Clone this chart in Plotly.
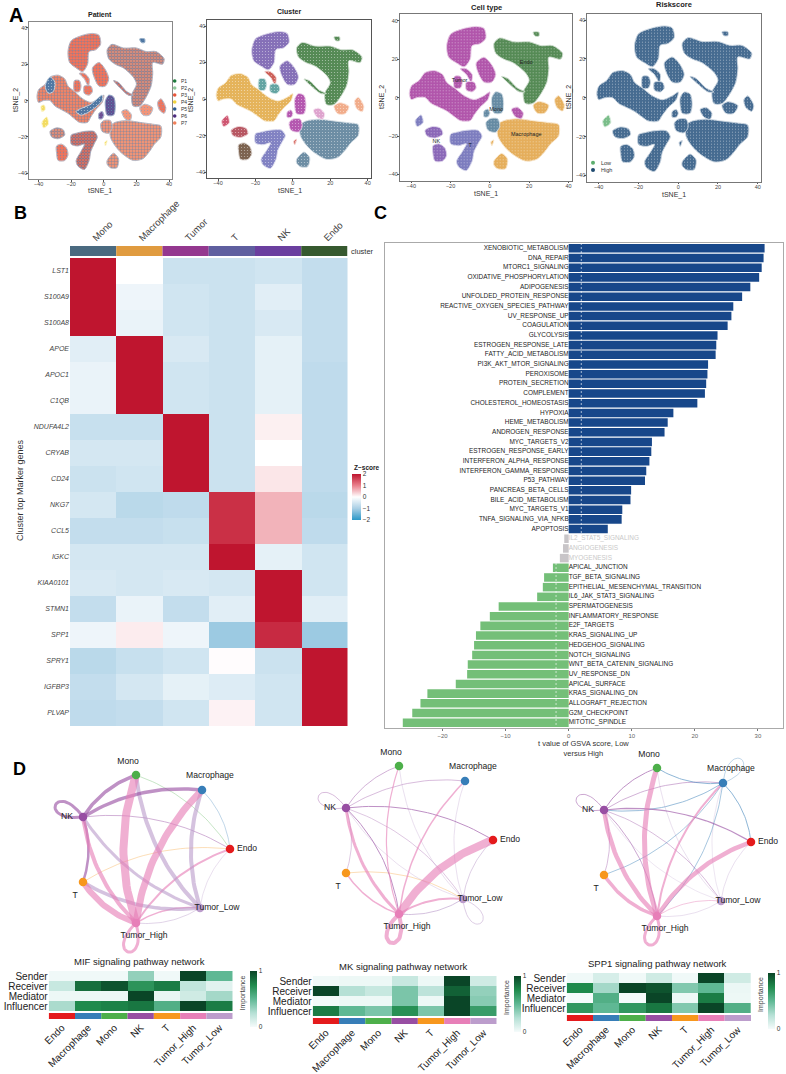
import plotly.graph_objects as go

W, H = 786, 1074
FONT = "Liberation Sans"

# ---- panel A: tSNE map, regions (outlines in tSNE units)
REGION_X = [
    [-22, -20, -13, -7, -3, -2, -5, -9, -10, -13, -17, -21],
    [-7, -3, 1, 3, 1, -3, -6],
    [-15, -12, -9, -9.5, -12],
    [-18, -15, -14, -15, -18],
    [-12, -8, -7, -9, -12],
    [-41, -40, -36, -33, -28, -24, -22, -18, -13, -8, -3, 0, -1, -5, -8, -10, -15, -18, -22, -26, -30, -33, -37, -40],
    [-38, -35, -34, -37],
    [-33, -29, -25, -24, -28, -32],
    [-29, -26, -23, -22, -24, -28, -29],
    [-20, -17, -12, -6, -4, -6, -8, -9, -12, -16, -17, -14, -12, -16, -20],
    [0.5, 2, 1],
    [4, 7, 14, 22, 30, 35, 35, 31, 28, 24, 18, 11, 7, 4],
    [2, 6, 9, 8, 4, 2],
    [1, 3, 6, 7, 6, 2, 1],
    [-2, 0, 4, 5, 3, -1],
    [-3, -1, 0, -1, -3],
    [11, 14, 17, 16, 13],
    [22, 25, 30, 28, 24],
    [33, 35, 38, 37, 34],
    [2, 5, 12, 20, 26, 32, 37, 36, 30, 30, 29, 26, 22, 18, 17, 20, 18, 12, 7, 3],
    [6, 9, 14, 18, 15, 10],
    [22, 25, 25, 23],
]
REGION_Y = [
    [27, 33, 36, 37, 36, 31, 28, 27, 20, 16, 18, 21],
    [18, 21, 17, 12, 8, 8, 13],
    [15, 15, 12, 8, 12],
    [11, 11, 8, 5, 5],
    [8, 8, 5, 3, 4],
    [2, 6, 9, 13, 14, 12, 8, 5, 1, -1, 1, 3, -1, -5, -9, -12, -12, -10, -7, -5, -3, 0, 0, -1],
    [-12, -9, -13, -15],
    [-17, -15, -16, -19, -21, -20],
    [-25, -24, -26, -30, -33, -33, -29],
    [-19, -18, -17, -17, -20, -24, -28, -33, -38, -36, -33, -28, -24, -25, -24],
    [-23, -22, -25],
    [-14, -12, -11, -12, -13, -14, -20, -24, -28, -32, -33, -29, -25, -20],
    [-33, -29, -32, -37, -37, -35],
    [0, 3, 2, -3, -8, -8, -4],
    [-13, -11, -11, -15, -18, -17],
    [-7, -6, -8, -10, -10],
    [-6, -5, -8, -11, -10],
    [-4, -2, -4, -8, -8],
    [-1, 1, -4, -7, -5],
    [28, 31, 29, 29, 27, 27, 23, 20, 21, 15, 8, 2, -3, -3, 3, 9, 13, 18, 20, 23],
    [11, 10, 5, 3, 3, 7],
    [34, 34, 32, 32],
]
CLUSTER_COLORS = ["#6a4fa8", "#6a4fa8", "#c23b32", "#3f8f8d", "#3f8f8d", "#e0a235", "#c42f4f", "#a83240",
                  "#5f3f28", "#6566b5", "#c8352b", "#4b7390", "#4b7390", "#a4329e", "#a4329e", "#a4329e",
                  "#d78fc4", "#ee9a6f", "#ee9a6f", "#2f6f30", "#2f6f30", "#2f6f30"]
CELLTYPE_COLORS = ["#a02f98", "#a02f98", "#a02f98", "#a02f98", "#a02f98", "#a02f98", "#6060b0", "#7045a8",
                   "#7045a8", "#6060b0", "#e09c35", "#e09c35", "#e09c35", "#426f8e", "#426f8e", "#426f8e",
                   "#a02f98", "#e09c35", "#e09c35", "#2f6f30", "#2f6f30", "#2f6f30"]
RISK_COLORS = ["#1b4a78"] * 6 + ["#5cae6e"] + ["#1b4a78"] * 15
PATIENT_COLORS = ["#e8553a", "#e8553a", "#e8553a", "#e8553a", "#e8553a", "#ee6b48", "#f0d33d", "#ee7b5a",
                  "#e8553a", "#e8553a", "#f0d33d", "#f0805a", "#f0805a", "#4b2a7d", "#ee7b5a", "#4b2a7d",
                  "#ee7b5a", "#ee7b5a", "#e8553a", "#ee7b5a", "#e8553a", "#2a5a8f"]
PATIENT_NAVY = [0.25, 0.2, 0.1, 0.15, 0.1, 0.3, 0.0, 0.5, 0.15, 0.55, 0.0, 0.35, 0.4, 0.5, 0.3, 0.1,
                0.1, 0.1, 0.1, 0.6, 0.55, 0.4]
# navy and yellow streaks only visible in the Patient panel
PATIENT_EXTRA_X = [[-36, -33, -30, -31, -34], [-17, -8, -1, -1, -7, -14], [-38.5, -36.5, -36, -38]]
PATIENT_EXTRA_Y = [[8, 13, 10, 5, 4], [-6, -2, 3, 0, -5, -8], [-3, -2.5, -5, -6]]
PATIENT_EXTRA_COLORS = ["#2a5a8f", "#2a5a8f", "#f0d33d"]

PATIENT_NAMES = ["P1", "P2", "P3", "P4", "P5", "P6", "P7"]
PATIENT_KEYS = ["#1e7a3c", "#8fc89a", "#e8553a", "#f0d33d", "#2a5a8f", "#4b2a7d", "#f0805a"]
CELL_LABELS = ["Tumor", "Endo", "Mono", "Macrophage", "NK", "T"]
CELL_LABEL_X = [-15.4, 18.5, 3.2, 18.5, -27.3, -10]
CELL_LABEL_Y = [8.6, 18.3, -6.2, -19.5, -23, -25]

# ---- panel B
GENES = ["LST1", "S100A9", "S100A8", "APOE", "APOC1", "C1QB", "NDUFA4L2", "CRYAB", "CD24",
         "NKG7", "CCL5", "IGKC", "KIAA0101", "STMN1", "SPP1", "SPRY1", "IGFBP3", "PLVAP"]
CLUSTERS = ["Mono", "Macrophage", "Tumor", "T", "NK", "Endo"]
CLUSTER_BAR = ["#4a6a80", "#e09b3f", "#94388f", "#5f5f9f", "#6b3f9f", "#36592f"]
ZSCORE = [
    [2, 0, -0.6, -0.6, -0.55, -0.7],
    [2, -0.2, -0.55, -0.6, -0.35, -0.7],
    [2, -0.25, -0.55, -0.6, -0.45, -0.7],
    [-0.35, 2, -0.45, -0.6, -0.3, -0.7],
    [-0.25, 2, -0.55, -0.6, -0.3, -0.75],
    [-0.25, 2, -0.55, -0.6, -0.3, -0.75],
    [-0.65, -0.65, 2, -0.6, 0.12, -0.75],
    [-0.5, -0.5, 2, -0.6, 0, -0.75],
    [-0.6, -0.55, 2, -0.6, 0.2, -0.75],
    [-0.5, -0.8, -0.75, 1.75, 0.6, -0.8],
    [-0.7, -0.7, -0.65, 1.75, 0.6, -0.75],
    [-0.5, -0.5, -0.5, 2, -0.3, -0.55],
    [-0.45, -0.5, -0.45, -0.5, 2, -0.55],
    [-0.7, -0.25, -0.7, -0.35, 2, -0.35],
    [-0.2, 0.15, -0.2, -1.1, 1.8, -1.1],
    [-0.8, -0.65, -0.55, 0.02, -0.6, 2],
    [-0.7, -0.5, -0.3, -0.4, -0.55, 2],
    [-0.75, -0.7, -0.55, 0.1, -0.55, 2],
]

# ---- panel C
PATHWAYS = ["XENOBIOTIC_METABOLISM", "DNA_REPAIR", "MTORC1_SIGNALING", "OXIDATIVE_PHOSPHORYLATION", "ADIPOGENESIS",
            "UNFOLDED_PROTEIN_RESPONSE", "REACTIVE_OXYGEN_SPECIES_PATHWAY", "UV_RESPONSE_UP", "COAGULATION",
            "GLYCOLYSIS", "ESTROGEN_RESPONSE_LATE", "FATTY_ACID_METABOLISM", "PI3K_AKT_MTOR_SIGNALING", "PEROXISOME",
            "PROTEIN_SECRETION", "COMPLEMENT", "CHOLESTEROL_HOMEOSTASIS", "HYPOXIA", "HEME_METABOLISM",
            "ANDROGEN_RESPONSE", "MYC_TARGETS_V2", "ESTROGEN_RESPONSE_EARLY", "INTERFERON_ALPHA_RESPONSE",
            "INTERFERON_GAMMA_RESPONSE", "P53_PATHWAY", "PANCREAS_BETA_CELLS", "BILE_ACID_METABOLISM", "MYC_TARGETS_V1",
            "TNFA_SIGNALING_VIA_NFKB", "APOPTOSIS", "IL2_STAT5_SIGNALING", "ANGIOGENESIS", "MYOGENESIS",
            "APICAL_JUNCTION", "TGF_BETA_SIGNALING", "EPITHELIAL_MESENCHYMAL_TRANSITION", "IL6_JAK_STAT3_SIGNALING",
            "SPERMATOGENESIS", "INFLAMMATORY_RESPONSE", "E2F_TARGETS", "KRAS_SIGNALING_UP", "HEDGEHOG_SIGNALING",
            "NOTCH_SIGNALING", "WNT_BETA_CATENIN_SIGNALING", "UV_RESPONSE_DN", "APICAL_SURFACE", "KRAS_SIGNALING_DN",
            "ALLOGRAFT_REJECTION", "G2M_CHECKPOINT", "MITOTIC_SPINDLE"]
T_VALUES = [31.06, 30.9, 30.6, 30.2, 28.8, 27.5, 26.1, 25.8, 25.2, 23.6, 23.4, 23.3, 22.1, 22.0, 21.8, 21.6, 20.4,
            16.6, 15.7, 15.2, 13.2, 13.1, 12.8, 12.3, 12.1, 9.9, 9.8, 8.5, 8.4, 6.2, -0.7, -0.9, -1.4, -2.5, -3.9,
            -4.1, -5.0, -11.1, -12.5, -14.0, -14.7, -15.0, -15.3, -16.0, -16.1, -17.9, -22.4, -23.5, -24.8, -26.3]

# ---- panel D
CELLS = ["Endo", "Macrophage", "Mono", "NK", "T", "Tumor_High", "Tumor_Low"]
CELL_COLORS = ["#e41a1c", "#377eb8", "#4daf4a", "#984ea3", "#f7971d", "#e77fb8", "#bc9dcc"]
NODE_X = [94, 66, 0, -53, -53, 0, 64]
NODE_Y = [0, 59, 74, 32, -33, -74, -59]
NODE_LABEL_X = [111, 74, -8, -69, -61, 8, 81]
NODE_LABEL_Y = [0, 73, 87, 32, -47, -87, -59]
ROLES = ["Sender", "Receiver", "Mediator", "Influencer"]

MIF_EDGES = [("Mono", "Endo", 0.5), ("Macrophage", "Endo", 0.5), ("T", "Endo", 0.5), ("NK", "Endo", 0.7),
             ("Tumor_Low", "Endo", 0.5), ("Tumor_Low", "Tumor_High", 0.7), ("Tumor_High", "Tumor_Low", 1.5),
             ("Tumor_High", "Endo", 2), ("NK", "T", 2.5), ("NK", "NK", 3), ("Tumor_High", "Tumor_High", 3),
             ("Tumor_Low", "NK", 3), ("Tumor_Low", "T", 3.5), ("Tumor_Low", "Mono", 4), ("Tumor_Low", "Macrophage", 4),
             ("NK", "Mono", 3.5), ("NK", "Macrophage", 3.5), ("Tumor_High", "NK", 4), ("Tumor_High", "T", 6),
             ("Tumor_High", "Mono", 8), ("Tumor_High", "Macrophage", 7)]
MK_EDGES = [("NK", "Tumor_Low", 0.5), ("NK", "T", 0.5), ("NK", "NK", 0.6), ("NK", "Macrophage", 0.6), ("NK", "Mono", 0.7),
            ("T", "Tumor_Low", 0.5), ("Tumor_Low", "NK", 0.5), ("Tumor_Low", "Mono", 0.5), ("Tumor_Low", "Macrophage", 0.5),
            ("Tumor_Low", "Tumor_Low", 0.8), ("Tumor_Low", "Endo", 0.8), ("Tumor_Low", "Tumor_High", 1),
            ("NK", "Endo", 1), ("NK", "Tumor_High", 1), ("Tumor_High", "Mono", 1.2), ("Tumor_High", "Macrophage", 1.5),
            ("Tumor_High", "T", 1.5), ("Tumor_High", "Tumor_Low", 2), ("Tumor_High", "NK", 3),
            ("Tumor_High", "Tumor_High", 4), ("Tumor_High", "Endo", 8)]
SPP1_EDGES = [("Tumor_Low", "Macrophage", 0.4), ("Tumor_Low", "NK", 0.4), ("Tumor_Low", "Endo", 0.5), ("Tumor_Low", "Mono", 0.5),
              ("Tumor_Low", "Tumor_High", 0.5), ("Macrophage", "Macrophage", 0.5), ("NK", "Tumor_Low", 0.6), ("NK", "T", 0.6),
              ("Macrophage", "T", 0.7), ("Macrophage", "Tumor_High", 0.7), ("Tumor_High", "Tumor_Low", 0.7), ("NK", "Macrophage", 0.7),
              ("NK", "NK", 0.8), ("NK", "Tumor_High", 0.8), ("Macrophage", "NK", 0.8), ("Macrophage", "Mono", 0.9),
              ("Macrophage", "Endo", 0.9), ("NK", "Mono", 1), ("NK", "Endo", 1.2), ("Tumor_High", "Macrophage", 2),
              ("Tumor_High", "Tumor_High", 3), ("Tumor_High", "T", 3.5), ("Tumor_High", "NK", 4.5),
              ("Tumor_High", "Endo", 4.5), ("Tumor_High", "Mono", 5)]

MIF_ROLE = [[0.02, 0.02, 0.02, 0.35, 0.02, 1, 0.5],
            [0.18, 0.85, 0.95, 0.7, 0.8, 0.2, 0.08],
            [0.03, 0.03, 0.03, 1, 0.05, 0.15, 0.3],
            [0.28, 0.75, 0.78, 0.82, 0.55, 1, 0.8]]
MK_ROLE = [[0.02, 0.03, 0.03, 0.18, 0.03, 1, 0.15],
           [1, 0.25, 0.18, 0.42, 0.22, 0.9, 0.35],
           [0.01, 0.03, 0.03, 0.42, 0.03, 1, 0.38],
           [0.8, 0.5, 0.42, 0.72, 0.42, 1, 0.65]]
SPP1_ROLE = [[0.02, 0.12, 0.02, 0.15, 0.02, 1, 0.15],
             [0.75, 0.3, 1, 0.95, 0.4, 0.5, 0.04],
             [0, 0.55, 0, 1, 0.03, 0.8, 0.03],
             [0.68, 0.5, 0.68, 0.82, 0.4, 1, 0.55]]

ZSCALE = [[0, "#2b98c8"], [0.25, "#a9cfe5"], [0.5, "#ffffff"], [0.75, "#e9808c"], [1, "#bf152f"]]
GREENS = [[0, "#f5fbfb"], [0.25, "#b5e0d5"], [0.5, "#5fb894"], [0.75, "#1f8a4c"], [1, "#0a4527"]]

fig = go.Figure()
layout = {}
annotations = []
shapes = []
n_axes = 0


def add_axes(x0, x1, y0, y1, xopts=None, yopts=None):
    """New axis pair on a pixel box (y measured from the top of the page)."""
    global n_axes
    n_axes += 1
    s = "" if n_axes == 1 else str(n_axes)
    xo = dict(domain=[x0 / W, x1 / W], anchor="y" + s, showgrid=False, zeroline=False,
              showticklabels=False, ticks="", showline=False)
    yo = dict(domain=[1 - y1 / H, 1 - y0 / H], anchor="x" + s, showgrid=False, zeroline=False,
              showticklabels=False, ticks="", showline=False)
    xo.update(xopts or {})
    yo.update(yopts or {})
    layout["xaxis" + s] = xo
    layout["yaxis" + s] = yo
    return "x" + s, "y" + s


def note(text, px, py, size=7, color="#222", angle=0, xanchor="center", yanchor="middle"):
    annotations.append(dict(text=text, x=px / W, y=1 - py / H, xref="paper", yref="paper", showarrow=False,
                            font=dict(size=size, color=color, family=FONT), textangle=angle,
                            xanchor=xanchor, yanchor=yanchor, borderpad=0, xshift=0))


def tint(color, a):
    rgb = [int(color[i:i + 2], 16) for i in (1, 3, 5)]
    return "rgb(%d,%d,%d)" % tuple(255 - (255 - c) * a for c in rgb)


def patch(xa, ya, xs, ys, fg, bg, size, solidity):
    fig.add_trace(go.Scatter(x=xs + xs[:1], y=ys + ys[:1], xaxis=xa, yaxis=ya, mode="lines", fill="toself",
                             line=dict(width=0.5, color=tint(fg, 0.6), shape="spline", smoothing=0.8),
                             fillcolor="rgba(0,0,0,0)",
                             fillpattern=dict(shape=".", fgcolor=fg, bgcolor=bg, size=size, solidity=solidity),
                             hoverinfo="skip"))


def blob(xa, ya, xs, ys, fg):
    # dense cell dots with fine white gaps between them
    patch(xa, ya, xs, ys, fg, tint(fg, 0.75), 2, 0.6)
    patch(xa, ya, xs, ys, "#ffffff", "rgba(0,0,0,0)", 3, 0.12)


def tsne_axes(x0, x1, y0, y1, frame):
    ticks = dict(showticklabels=True, ticks="outside", ticklen=1.5, tickwidth=0.7, tickcolor="#555", ticklabelstandoff=-2,
                 tickvals=[-40, -20, 0, 20, 40], tickfont=dict(size=5.5, color="#444", family=FONT),
                 showline=True, mirror=True, linecolor=frame, linewidth=1.3)
    return add_axes(x0, x1, y0, y1, dict(range=[-45.9, 41.8], **ticks), dict(range=[-43.2, 43.3], **ticks))


# Panel A
xa, ya = tsne_axes(29, 172, 22, 179, "#888")
for xs, ys, c, navy in zip(REGION_X, REGION_Y, PATIENT_COLORS, PATIENT_NAVY):
    blob(xa, ya, xs, ys, c)
    if navy > 0:
        patch(xa, ya, xs, ys, "#2a5a8f", "rgba(0,0,0,0)", 3, navy)
for xs, ys, c in zip(PATIENT_EXTRA_X, PATIENT_EXTRA_Y, PATIENT_EXTRA_COLORS):
    blob(xa, ya, xs, ys, c)

xa, ya = tsne_axes(207, 371, 20, 178, "#555")
for xs, ys, c in zip(REGION_X, REGION_Y, CLUSTER_COLORS):
    blob(xa, ya, xs, ys, c)

xa, ya = tsne_axes(399.7, 572, 14.3, 180.7, "#777")
for xs, ys, c in zip(REGION_X, REGION_Y, CELLTYPE_COLORS):
    blob(xa, ya, xs, ys, c)
fig.add_trace(go.Scatter(x=CELL_LABEL_X, y=CELL_LABEL_Y, text=CELL_LABELS, mode="text", xaxis=xa, yaxis=ya,
                         textfont=dict(size=5.5, color="#222", family=FONT), hoverinfo="skip"))

xa, ya = tsne_axes(587, 761.3, 13.7, 181.7, "#777")
for xs, ys, c in zip(REGION_X, REGION_Y, RISK_COLORS):
    blob(xa, ya, xs, ys, c)

for text, px, py, size in [("Patient", 100, 14, 7), ("Cluster", 289, 12, 7), ("Cell type", 486, 7, 7.5), ("Riskscore", 674, 5, 7.5)]:
    note("<b>%s</b>" % text, px, py, size=size)
for px, py in [(100, 191), (290, 191), (486, 194), (674, 195)]:
    note("tSNE_1", px, py, size=7, color="#333")
for px, py in [(16, 100), (191, 100), (382, 97), (569, 97)]:
    note("tSNE_2", px, py, size=7, color="#333", angle=-90)

for i, (name, c) in enumerate(zip(PATIENT_NAMES, PATIENT_KEYS)):
    py = 81 + i * 7
    shapes.append(dict(type="circle", xref="paper", yref="paper", x0=172.9 / W, x1=176.5 / W,
                       y0=1 - (py + 1.8) / H, y1=1 - (py - 1.8) / H, fillcolor=c, line=dict(width=0)))
    note(name, 180, py, size=5, color="#333", xanchor="left")
for name, c, py in [("Low", "#5cae6e", 162.7), ("High", "#1f4a70", 170)]:
    shapes.append(dict(type="circle", xref="paper", yref="paper", x0=591 / W, x1=595 / W,
                       y0=1 - (py + 2) / H, y1=1 - (py - 2) / H, fillcolor=c, line=dict(width=0)))
    note(name, 600, py, size=5.5, color="#333", xanchor="left")

# Panel B
xa, ya = add_axes(70, 347.5, 246, 256,
                  dict(range=[-0.5, 5.5], side="top", showticklabels=True, tickvals=list(range(6)), ticktext=CLUSTERS,
                       tickangle=-45, tickfont=dict(size=9.5, color="#444", family=FONT)),
                  dict(range=[0, 1]))
fig.add_trace(go.Bar(x=list(range(6)), y=[1] * 6, width=1, marker=dict(color=CLUSTER_BAR, line=dict(width=0)),
                     xaxis=xa, yaxis=ya, hoverinfo="skip"))
gene_ticks = ["<i>%s</i>" % g for g in GENES]
xa, ya = add_axes(70, 347.5, 258, 726, None,
                  dict(autorange="reversed", showticklabels=True, tickmode="array", tickvals=gene_ticks, ticktext=gene_ticks,
                       tickfont=dict(size=7, color="#444", family=FONT)))
fig.add_trace(go.Heatmap(z=ZSCORE, x=CLUSTERS, y=gene_ticks, xaxis=xa, yaxis=ya,
                         zmin=-2, zmax=2, colorscale=ZSCALE, hoverinfo="skip",
                         colorbar=dict(x=351.5 / W, y=1 - 474 / H, xanchor="left", yanchor="top", lenmode="pixels", len=46,
                                       thicknessmode="pixels", thickness=9, outlinewidth=0, xpad=0, ypad=0, ticks="",
                                       tickvals=[-2, -1, 0, 1, 2], ticktext=["−2", "−1", "0", "1", "2"],
                                       tickfont=dict(size=6.5, color="#333", family=FONT))))
note("cluster", 349.5, 251, size=7.5, color="#333", xanchor="left")
note("<b>Z−score</b>", 366, 467, size=6.5, color="#222")
note("Cluster top Marker genes", 20, 490, size=9, color="#333", angle=-90)

# Panel C
frame = dict(showline=True, mirror=True, linecolor="#aaa", linewidth=1.4)
xa, ya = add_axes(384.5, 782.5, 243, 728,
                  dict(range=[-29.2, 33.9], showticklabels=True, ticks="outside", ticklen=2, tickwidth=0.7, tickcolor="#777",
                       tickvals=[-20, -10, 0, 10, 20, 30], ticktext=["−20", "−10", "0", "10", "20", "30"],
                       tickfont=dict(size=6, color="#666", family=FONT), **frame),
                  dict(range=[49.55, -0.55], **frame))
rows = list(range(len(PATHWAYS)))
bar_colors = ["#17478a" if v > 2 else "#c8c5c8" if v > -2 else "#74bf78" for v in T_VALUES]
fig.add_trace(go.Bar(x=T_VALUES, y=rows, orientation="h", width=0.88, marker=dict(color=bar_colors, line=dict(width=0)),
                     xaxis=xa, yaxis=ya, hoverinfo="skip"))
for cut in (-2, 2):
    fig.add_trace(go.Scatter(x=[cut, cut], y=[-0.55, 49.55], mode="lines", xaxis=xa, yaxis=ya, hoverinfo="skip",
                             line=dict(color="rgba(255,255,255,0.9)", width=0.7, dash="2px,2px")))
fig.add_trace(go.Scatter(x=[0] * len(rows), y=rows, text=PATHWAYS, mode="text", xaxis=xa, yaxis=ya, hoverinfo="skip",
                         textposition=["middle left" if v > 2 else "middle right" for v in T_VALUES],
                         textfont=dict(size=6.45, family=FONT,
                                       color=["#c9c9c9" if abs(v) < 2 else "#222" for v in T_VALUES])))
note("t value of GSVA score, Low<br>versus High", 583, 748, size=7.5, color="#333")


# Panel D
def curve(x0, y0, x1, y1, bend=0.17, steps=28):
    """Quadratic arc bowing to the left of the source -> target direction."""
    cx = (x0 + x1) / 2 - (y1 - y0) * bend
    cy = (y0 + y1) / 2 + (x1 - x0) * bend
    ts = [i / steps for i in range(steps + 1)]
    xs = [(1 - t) ** 2 * x0 + 2 * t * (1 - t) * cx + t ** 2 * x1 for t in ts]
    ys = [(1 - t) ** 2 * y0 + 2 * t * (1 - t) * cy + t ** 2 * y1 for t in ts]
    return xs, ys


def loop(x0, y0, reach=40, steps=28):
    """Self edge leaving the node away from the middle of the ring."""
    dx, dy = x0 - 20, y0
    norm = (dx ** 2 + dy ** 2) ** 0.5
    dx, dy = dx / norm, dy / norm
    x1, y1 = x0 + reach * (dx - dy * 0.6), y0 + reach * (dy + dx * 0.6)
    x2, y2 = x0 + reach * (dx + dy * 0.6), y0 + reach * (dy - dx * 0.6)
    ts = [i / steps for i in range(steps + 1)]
    xs = [(1 - t) ** 3 * x0 + 3 * t * (1 - t) ** 2 * x1 + 3 * t ** 2 * (1 - t) * x2 + t ** 3 * x0 for t in ts]
    ys = [(1 - t) ** 3 * y0 + 3 * t * (1 - t) ** 2 * y1 + 3 * t ** 2 * (1 - t) * y2 + t ** 3 * y0 for t in ts]
    return xs, ys


def network(edges, dx, dy):
    cx, cy = 136 + dx, 849 + dy
    xa, ya = add_axes(cx - 100, cx + 125, cy - 105, cy + 105, dict(range=[-100, 125]), dict(range=[-105, 105]))
    for src, dst, w in edges:
        i, j = CELLS.index(src), CELLS.index(dst)
        if i == j:
            xs, ys = loop(NODE_X[i], NODE_Y[i])
        else:
            xs, ys = curve(NODE_X[i], NODE_Y[i], NODE_X[j], NODE_Y[j])
        fig.add_trace(go.Scatter(x=xs, y=ys, mode="lines", xaxis=xa, yaxis=ya, opacity=0.62, cliponaxis=False,
                                 line=dict(color=CELL_COLORS[i], width=w), hoverinfo="skip"))
    fig.add_trace(go.Scatter(x=NODE_X, y=NODE_Y, mode="markers", xaxis=xa, yaxis=ya, cliponaxis=False,
                             marker=dict(size=8.5, color=CELL_COLORS, line=dict(width=0)), hoverinfo="skip"))
    fig.add_trace(go.Scatter(x=NODE_LABEL_X, y=NODE_LABEL_Y, text=CELLS, mode="text", xaxis=xa, yaxis=ya, cliponaxis=False,
                             textfont=dict(size=8.6, color="#222", family=FONT), hoverinfo="skip"))


def role_heatmap(role, title, x0, x1, y0, bar_x, bar_len):
    y1 = y0 + 40
    xa, ya = add_axes(x0, x1, y0, y1, None,
                      dict(autorange="reversed", showticklabels=True, tickmode="array", tickvals=ROLES, ticktext=ROLES,
                           tickfont=dict(size=10, color="#222", family=FONT)))
    fig.add_trace(go.Heatmap(z=role, x=CELLS, y=ROLES, xaxis=xa, yaxis=ya, zmin=0, zmax=1, colorscale=GREENS, hoverinfo="skip",
                             colorbar=dict(x=bar_x / W, y=1 - y0 / H, xanchor="left", yanchor="top", lenmode="pixels", len=bar_len,
                                           thicknessmode="pixels", thickness=6.5, outlinewidth=0, xpad=0, ypad=0, ticks="",
                                           tickvals=[0, 1], tickfont=dict(size=6.5, color="#333", family=FONT))))
    xa, ya = add_axes(x0, x1, y1 + 2, y1 + 8,
                      dict(range=[-0.5, 6.5], showticklabels=True, tickvals=list(range(7)), ticktext=CELLS, tickangle=-45,
                           tickfont=dict(size=10, color="#222", family=FONT)),
                      dict(range=[0, 1]))
    fig.add_trace(go.Bar(x=list(range(7)), y=[1] * 7, width=1, marker=dict(color=CELL_COLORS, line=dict(width=0)),
                         xaxis=xa, yaxis=ya, hoverinfo="skip"))
    note(title, (x0 + x1) / 2 - 1, y0 - 10, size=9.5, color="#222")
    note("Importance", bar_x - 7, y0 + 22, size=7, color="#444", angle=-90)


network(MIF_EDGES, 0, 0)
network(MK_EDGES, 263, -9)
network(SPP1_EDGES, 521, -7)
role_heatmap(MIF_ROLE, "MIF signaling pathway network", 48.7, 232.7, 971, 249.5, 56)
role_heatmap(MK_ROLE, "MK signaling pathway network", 312.7, 496.7, 976, 514, 56)
role_heatmap(SPP1_ROLE, "SPP1 signaling pathway network", 566.7, 751, 973, 768, 56)

for letter, px, py, size in [("A", 16, 15, 20), ("B", 20, 213, 18), ("C", 380, 213, 18), ("D", 19, 769, 18)]:
    note("<b>%s</b>" % letter, px, py, size=size, color="#000")

# colorbars would otherwise push the margins and squeeze every panel
fig.update_layout(width=W, height=H, margin=dict(l=0, r=0, t=0, b=0, autoexpand=False), paper_bgcolor="white", plot_bgcolor="white",
                  showlegend=False, barmode="overlay", font=dict(family=FONT), annotations=annotations, shapes=shapes, **layout)
# the page's default body margin would push the whole figure 8px off
fig.write_html("out.html", config=dict(displayModeBar=False), post_script="document.body.style.margin='0';")
